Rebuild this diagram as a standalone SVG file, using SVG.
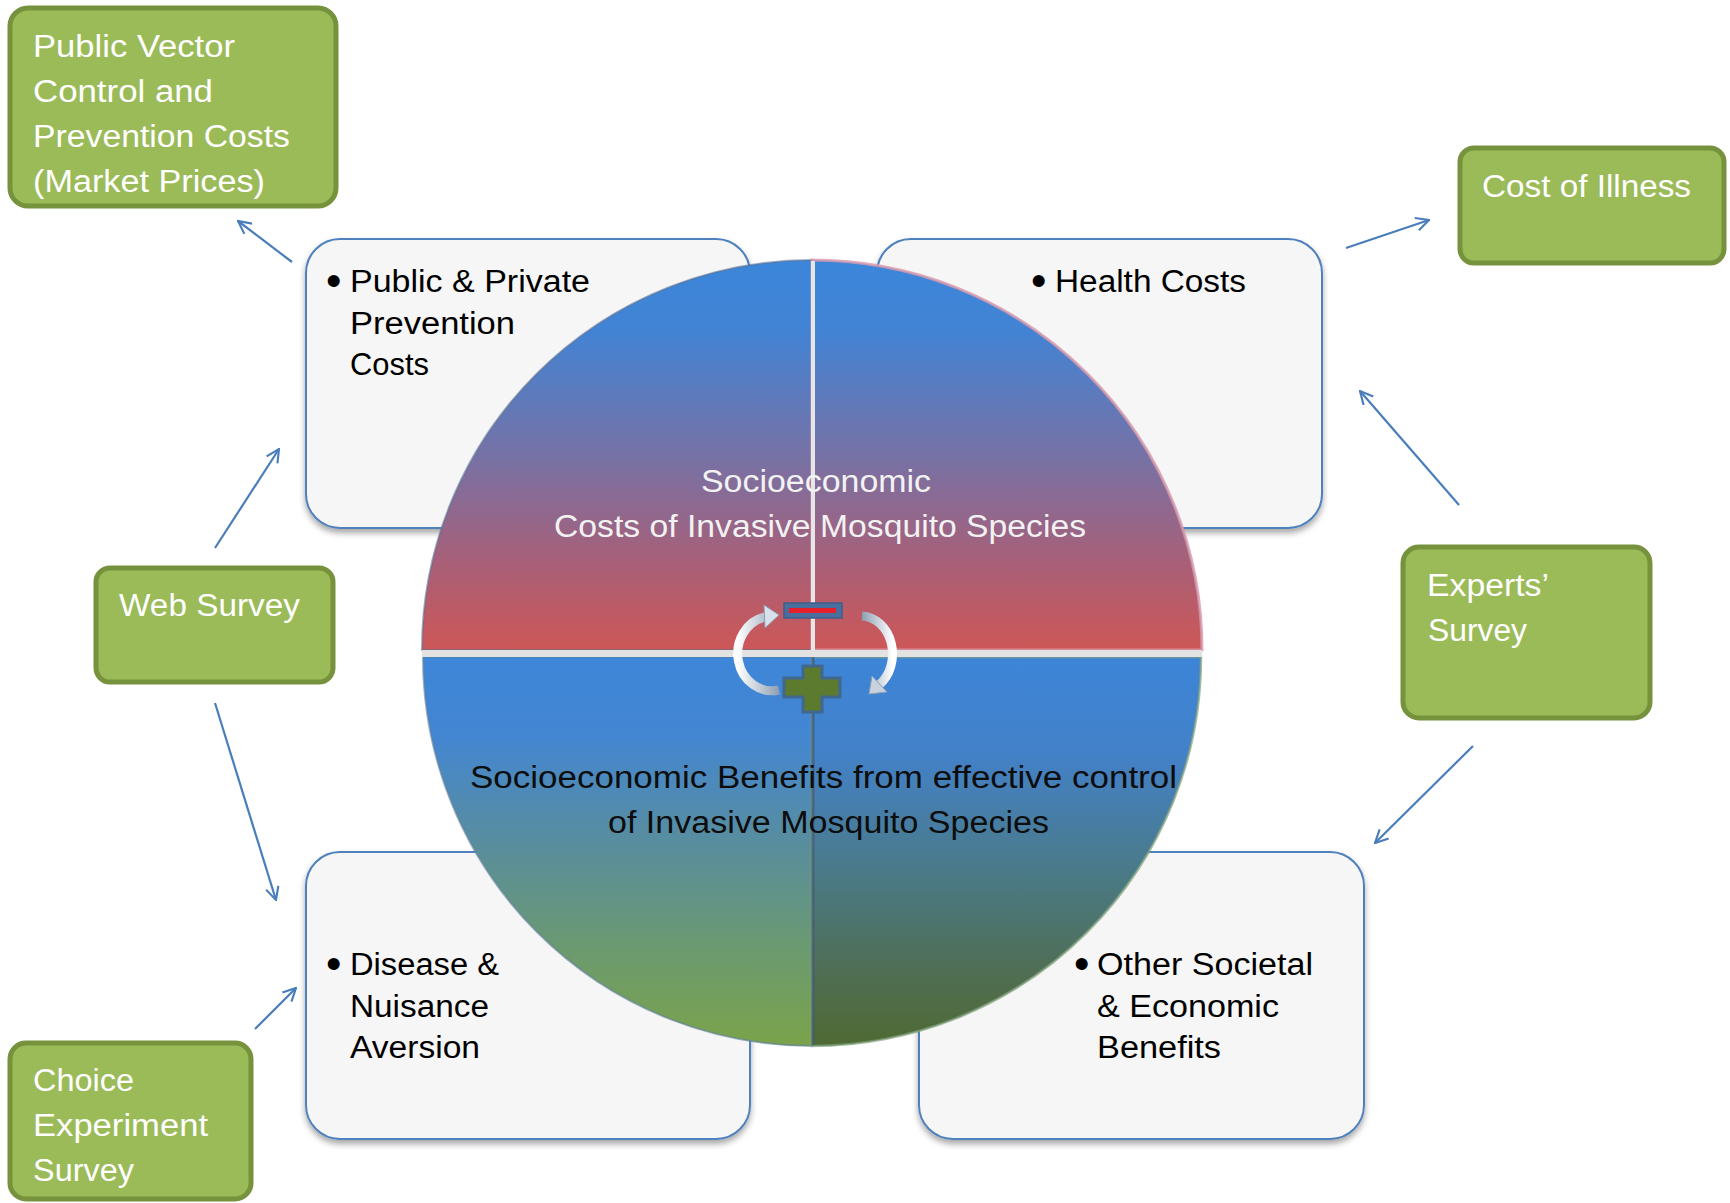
<svg xmlns="http://www.w3.org/2000/svg" width="1730" height="1203" viewBox="0 0 1730 1203">
<defs>
<style>
.g{fill:#9BBB59;stroke:#76923C;stroke-width:5}
.w{fill:#F6F6F6;stroke:#4F81BD;stroke-width:2}
.t{font-family:"Liberation Sans",Arial,sans-serif;font-size:31px}
.b{font-family:"Liberation Sans",Arial,sans-serif;font-size:44px}
.wt{fill:#FFFFFF}
.bk{fill:#000000}
.c{fill:none;stroke:#4A7EBB;stroke-width:2.2;marker-end:url(#ah)}
</style>
<marker id="ah" viewBox="0 0 14 14" refX="13" refY="7" markerWidth="15" markerHeight="15" markerUnits="userSpaceOnUse" orient="auto">
<path d="M1,1 L13,7 L1,13" fill="none" stroke="#4A7EBB" stroke-width="2"/>
</marker>
<filter id="sh" x="-10%" y="-10%" width="120%" height="125%">
<feDropShadow dx="0" dy="4" stdDeviation="3" flood-color="#000" flood-opacity="0.35"/>
</filter>
<linearGradient id="gU" gradientUnits="userSpaceOnUse" x1="0" y1="260" x2="0" y2="650">
<stop offset="0" stop-color="#3B86DA"/>
<stop offset="0.18" stop-color="#4283D4"/>
<stop offset="0.5" stop-color="#7672A6"/>
<stop offset="0.78" stop-color="#A95F77"/>
<stop offset="1" stop-color="#CD5757"/>
</linearGradient>
<linearGradient id="gLL" gradientUnits="userSpaceOnUse" x1="0" y1="657" x2="0" y2="1046">
<stop offset="0" stop-color="#3E86D9"/>
<stop offset="0.2" stop-color="#4386D2"/>
<stop offset="0.5" stop-color="#5A8E9A"/>
<stop offset="0.75" stop-color="#6B9A70"/>
<stop offset="1" stop-color="#7BA34A"/>
</linearGradient>
<linearGradient id="gLR" gradientUnits="userSpaceOnUse" x1="0" y1="657" x2="0" y2="1046">
<stop offset="0" stop-color="#3D85D8"/>
<stop offset="0.25" stop-color="#4381C8"/>
<stop offset="0.55" stop-color="#4A7A88"/>
<stop offset="0.8" stop-color="#4F6E55"/>
<stop offset="1" stop-color="#4F6A33"/>
</linearGradient>
<linearGradient id="gA" x1="0" y1="0" x2="1" y2="0">
<stop offset="0" stop-color="#FFFFFF"/>
<stop offset="1" stop-color="#8E9FB4"/>
</linearGradient>
<linearGradient id="gA2" x1="1" y1="0" x2="0" y2="0">
<stop offset="0" stop-color="#FFFFFF"/>
<stop offset="1" stop-color="#8E9FB4"/>
</linearGradient>
</defs>
<rect width="1730" height="1203" fill="#FFFFFF"/>

<g id="box-public-private" filter="url(#sh)">
<rect class="w" x="306" y="239" width="444" height="289" rx="34"/>
</g>
<g id="box-health" filter="url(#sh)">
<rect class="w" x="877" y="239" width="445" height="289" rx="34"/>
</g>
<g id="box-disease" filter="url(#sh)">
<rect class="w" x="306" y="852" width="444" height="287" rx="34"/>
</g>
<g id="box-other" filter="url(#sh)">
<rect class="w" x="919" y="852" width="445" height="287" rx="34"/>
</g>
<g id="text-public-private" class="t bk">
<text class="b" x="326" y="296">•</text>
<text x="350" y="292" textLength="240" lengthAdjust="spacingAndGlyphs">Public &amp; Private</text>
<text x="350" y="334" textLength="165" lengthAdjust="spacingAndGlyphs">Prevention</text>
<text x="350" y="375" textLength="79" lengthAdjust="spacingAndGlyphs">Costs</text>
</g>
<g id="text-health" class="t bk">
<text class="b" x="1031" y="296">•</text>
<text x="1055" y="292" textLength="191" lengthAdjust="spacingAndGlyphs">Health Costs</text>
</g>
<g id="text-disease" class="t bk">
<text class="b" x="326" y="979">•</text>
<text x="350" y="975" textLength="149" lengthAdjust="spacingAndGlyphs">Disease &amp;</text>
<text x="350" y="1017" textLength="139" lengthAdjust="spacingAndGlyphs">Nuisance</text>
<text x="350" y="1058" textLength="130" lengthAdjust="spacingAndGlyphs">Aversion</text>
</g>
<g id="text-other" class="t bk">
<text class="b" x="1074" y="979">•</text>
<text x="1097" y="975" textLength="216" lengthAdjust="spacingAndGlyphs">Other Societal</text>
<text x="1097" y="1017" textLength="182" lengthAdjust="spacingAndGlyphs">&amp; Economic</text>
<text x="1097" y="1058" textLength="124" lengthAdjust="spacingAndGlyphs">Benefits</text>
</g>

<g id="circle">
<path d="M812,650 L422,650 A390,390 0 0 1 812,260 Z" fill="url(#gU)" stroke="#5E6F92" stroke-opacity="0.6" stroke-width="2"/>
<path d="M812,650 L812,260 A390,390 0 0 1 1202,650 Z" fill="url(#gU)" stroke="#D898AC" stroke-opacity="0.8" stroke-width="3"/>
<path d="M812,657 L812,1046 A389,389 0 0 1 423,657 Z" fill="url(#gLL)" stroke="#5F7E9A" stroke-opacity="0.6" stroke-width="2"/>
<path d="M812,657 L1201,657 A389,389 0 0 1 812,1046 Z" fill="url(#gLR)" stroke="#7FA07A" stroke-opacity="0.7" stroke-width="2.5"/>
<rect x="422" y="650" width="780" height="7" fill="#E2E2E2"/>
<line x1="813" y1="261" x2="813" y2="650" stroke="#E6E6E6" stroke-width="4"/>
<line x1="813" y1="657" x2="813" y2="1045" stroke="#3E5873" stroke-opacity="0.7" stroke-width="3"/>
</g>
<g id="circle-text" class="t">
<text x="701" y="492" fill="#F2F2F2" textLength="230" lengthAdjust="spacingAndGlyphs">Socioeconomic</text>
<text x="554" y="537" fill="#F2F2F2" textLength="532" lengthAdjust="spacingAndGlyphs">Costs of Invasive Mosquito Species</text>
<text x="470" y="788" fill="#0D0D0D" textLength="707" lengthAdjust="spacingAndGlyphs">Socioeconomic Benefits from effective control</text>
<text x="608" y="833" fill="#0D0D0D" textLength="441" lengthAdjust="spacingAndGlyphs">of Invasive Mosquito Species</text>
</g>
<g id="minus">
<rect x="784" y="603" width="58" height="15" fill="#4A6E9E" stroke="#3F5F8A" stroke-width="1.5"/>
<rect x="789" y="608" width="47" height="5" fill="#E5202A"/>
</g>
<g id="plus">
<path d="M803,666 H822 V678 H840 V697 H822 V712 H803 V697 H784 V678 H803 Z" fill="#5C7B2E" stroke="#41678F" stroke-width="3"/>
</g>
<g id="cycle-arrows">
<path d="M779,690 A34,37 0 0 1 765,617" fill="none" stroke="url(#gA)" stroke-width="9"/>
<polygon points="779,615 764,605 765,628" fill="#D8E0EA" stroke="#8E9FB4" stroke-width="1"/>
<path d="M862,616 A32,38 0 0 1 879,685" fill="none" stroke="url(#gA2)" stroke-width="9"/>
<polygon points="869,694 872,676 887,692" fill="#C8D2DE" stroke="#8E9FB4" stroke-width="1"/>
</g>

<g id="node-public-vector">
<rect class="g" x="10" y="8" width="326" height="198" rx="18"/>
<g class="t wt">
<text x="33" y="57" textLength="202" lengthAdjust="spacingAndGlyphs">Public Vector</text>
<text x="33" y="102" textLength="180" lengthAdjust="spacingAndGlyphs">Control and</text>
<text x="33" y="147" textLength="257" lengthAdjust="spacingAndGlyphs">Prevention Costs</text>
<text x="33" y="192" textLength="232" lengthAdjust="spacingAndGlyphs">(Market Prices)</text>
</g>
</g>
<g id="node-cost-illness">
<rect class="g" x="1460" y="148" width="264" height="115" rx="14"/>
<text class="t wt" x="1482" y="197" textLength="209" lengthAdjust="spacingAndGlyphs">Cost of Illness</text>
</g>
<g id="node-web-survey">
<rect class="g" x="96" y="568" width="237" height="114" rx="14"/>
<text class="t wt" x="119" y="616" textLength="181" lengthAdjust="spacingAndGlyphs">Web Survey</text>
</g>
<g id="node-experts">
<rect class="g" x="1403" y="547" width="247" height="171" rx="16"/>
<g class="t wt">
<text x="1427" y="596" textLength="122" lengthAdjust="spacingAndGlyphs">Experts’</text>
<text x="1428" y="641" textLength="99" lengthAdjust="spacingAndGlyphs">Survey</text>
</g>
</g>
<g id="node-choice">
<rect class="g" x="10" y="1043" width="241" height="156" rx="16"/>
<g class="t wt">
<text x="33" y="1091" textLength="101" lengthAdjust="spacingAndGlyphs">Choice</text>
<text x="33" y="1136" textLength="175" lengthAdjust="spacingAndGlyphs">Experiment</text>
<text x="33" y="1181" textLength="101" lengthAdjust="spacingAndGlyphs">Survey</text>
</g>
</g>

<g id="connectors">
<line class="c" x1="292" y1="262" x2="238" y2="221"/>
<line class="c" x1="215" y1="548" x2="279" y2="449"/>
<line class="c" x1="215" y1="703" x2="276" y2="900"/>
<line class="c" x1="255" y1="1029" x2="296" y2="988"/>
<line class="c" x1="1346" y1="248" x2="1429" y2="220"/>
<line class="c" x1="1459" y1="505" x2="1360" y2="391"/>
<line class="c" x1="1473" y1="746" x2="1375" y2="843"/>
</g>
</svg>
